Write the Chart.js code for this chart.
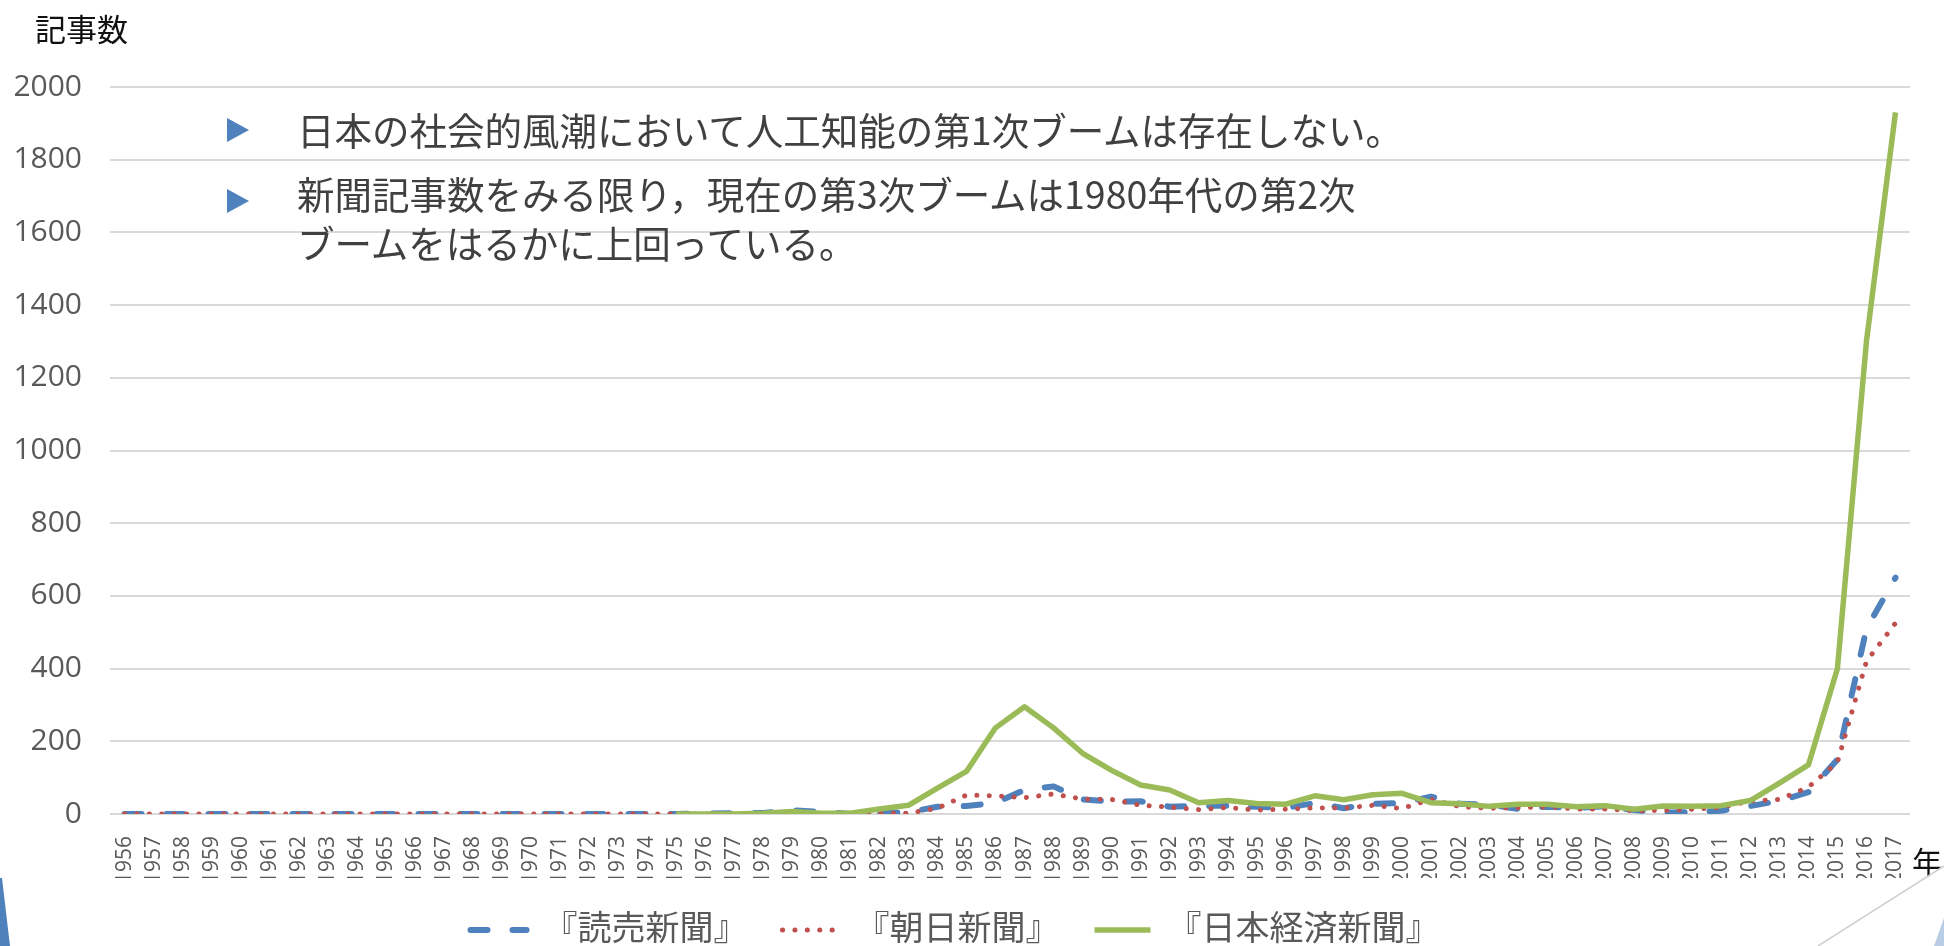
<!DOCTYPE html>
<html lang="ja">
<head>
<meta charset="utf-8">
<title>AI 新聞記事数</title>
<script src="https://cdn.jsdelivr.net/npm/chart.js@4"></script>
<style>
  html, body { margin:0; padding:0; background:#fff; overflow:hidden; }
  #wrap { position:relative; width:1944px; height:946px; overflow:hidden; }
  #chart { position:absolute; left:0; top:0; }
  .lbl { position:absolute; font-family:"Noto Sans CJK JP", sans-serif; white-space:nowrap; }
  .yt { left:35px; top:9px; font-size:31px; line-height:1.2; color:#111; }
  .xt { left:1912px; top:842px; font-size:30px; line-height:1.2; color:#111; }
  .note { left:297px; font-size:37.5px; color:#404040; }
  .n1 { top:104px; line-height:49px; }
  .n2 { top:168px; line-height:49px; }
  .tri { position:absolute; width:0; height:0; border-top:12px solid transparent;
         border-bottom:12px solid transparent; border-left:22px solid #4f81bd; }
  svg.deco { position:absolute; left:0; top:0; pointer-events:none; }
</style>
</head>
<body>
<div id="wrap">
  <canvas id="chart" width="1944" height="957"></canvas>
  <div class="lbl yt">記事数</div>
  <div class="lbl xt">年</div>
  <div class="tri" style="left:227px;top:118px"></div>
  <div class="lbl note n1">日本の社会的風潮において人工知能の第1次ブームは存在しない。</div>
  <div class="tri" style="left:227px;top:189px"></div>
  <div class="lbl note n2">新聞記事数をみる限り，現在の第3次ブームは1980年代の第2次<br>ブームをはるかに上回っている。</div>
  <svg class="deco" width="1944" height="946">
    <polygon points="0,878 2,878 10,946 0,946" fill="#4f81bd"/>
    <line x1="1944" y1="866" x2="1818" y2="946" stroke="#d0d0d0" stroke-width="1.5"/>
    <polygon points="1944,918 1944,946 1934,946" fill="#b9cde5"/>
  </svg>
</div>
<script>
// 人工知能 関連記事数（1956-2017）

const years = [
  '1956','1957','1958','1959','1960','1961','1962','1963','1964','1965',
  '1966','1967','1968','1969','1970','1971','1972','1973','1974','1975',
  '1976','1977','1978','1979','1980','1981','1982','1983','1984','1985',
  '1986','1987','1988','1989','1990','1991','1992','1993','1994','1995',
  '1996','1997','1998','1999','2000','2001','2002','2003','2004','2005',
  '2006','2007','2008','2009','2010','2011','2012','2013','2014','2015',
  '2016','2017'
];

// 『読売新聞』
const yomiuri = [
  0,0,0,0,0,0,0,0,0,0,
  0,0,0,0,0,0,0,0,0,0,
  1,2,3,10,6,0,2,5,20,22,
  31,66,76,40,34,35,20,22,23,20,
  17,30,16,28,30,48,28,26,14,20,
  17,21,11,4,5,9,22,36,60,150,
  510,650
];

// 『朝日新聞』
const asahi = [
  0,0,0,0,0,0,0,0,0,0,
  0,0,0,0,0,0,0,0,0,0,
  0,0,1,2,1,0,2,2,16,52,
  50,45,55,41,40,24,19,12,18,11,
  13,17,16,24,15,40,20,16,17,20,
  14,14,9,10,13,18,36,40,74,142,
  420,525
];

// 『日本経済新聞』（1975年から）
const nikkei = [
  null,null,null,null,null,null,null,null,null,null,
  null,null,null,null,null,null,null,null,null,0,
  0,0,2,7,2,2,14,24,71,117,
  237,295,237,167,120,80,66,31,37,29,
  27,50,39,53,57,31,28,21,27,27,
  20,23,13,22,21,23,37,85,135,400,
  1300,1930
];

const yTicks = { min: 0, max: 2000, step: 200 };

const grey = '#595959';
Chart.defaults.font.family = '"Open Sans", "Noto Sans CJK JP", sans-serif';

const lineBase = { pointRadius: 0, pointHoverRadius: 0, tension: 0, fill: false,
                   borderJoinStyle: 'round', spanGaps: false };

// legend samples: copy the line style of each dataset
function legendLabels(chart) {
  const base = Chart.defaults.plugins.legend.labels.generateLabels(chart);
  return base.map(l => {
    const ds = chart.data.datasets[l.datasetIndex];
    return { ...l, lineDash: ds.borderDash || [], lineWidth: ds.borderWidth,
             lineCap: ds.borderCapStyle, strokeStyle: ds.borderColor, fillStyle: ds.borderColor };
  });
}

new Chart(document.getElementById('chart'), {
  type: 'line',
  data: {
    labels: years,
    datasets: [
      { ...lineBase, label: '『読売新聞』', data: yomiuri, order: 2,
        borderColor: '#4f81bd', backgroundColor: '#4f81bd',
        borderWidth: 6, borderDash: [17, 25], borderCapStyle: 'round' },
      { ...lineBase, label: '『朝日新聞』', data: asahi, order: 1,
        borderColor: '#c0504d', backgroundColor: '#c0504d',
        borderWidth: 5, borderDash: [0.1, 12.3], borderCapStyle: 'round' },
      { ...lineBase, label: '『日本経済新聞』', data: nikkei, order: 0,
        borderColor: '#9bbb59', backgroundColor: '#9bbb59',
        borderWidth: 5.5, borderCapStyle: 'butt' },
    ]
  },
  options: {
    responsive: false,
    animation: false,
    devicePixelRatio: 1,
    layout: { padding: { top: 87, left: 0, right: 34, bottom: 0 } },
    plugins: {
      tooltip: { enabled: false },
      legend: {
        position: 'bottom',
        labels: {
          usePointStyle: true, pointStyle: 'line', pointStyleWidth: 56,
          padding: 35, color: grey, font: { size: 34 },
          generateLabels: legendLabels,
          sort: (a, b) => a.datasetIndex - b.datasetIndex
        }
      }
    },
    scales: {
      x: {
        offset: true,
        grid: { display: false },
        border: { display: false },
        ticks: { autoSkip: false, minRotation: 90, maxRotation: 90,
                 color: grey, font: { size: 21 }, padding: 14 },
        afterFit: s => { s.height = 64; }
      },
      y: {
        min: yTicks.min, max: yTicks.max,
        grid: { color: '#d9d9d9', lineWidth: 2, drawTicks: false },
        border: { display: false },
        ticks: { stepSize: yTicks.step, color: grey, font: { size: 30 }, padding: 28,
                 callback: v => String(v) },
        afterFit: s => { s.width = 110; }
      }
    }
  }
});
</script>
</body>
</html>
